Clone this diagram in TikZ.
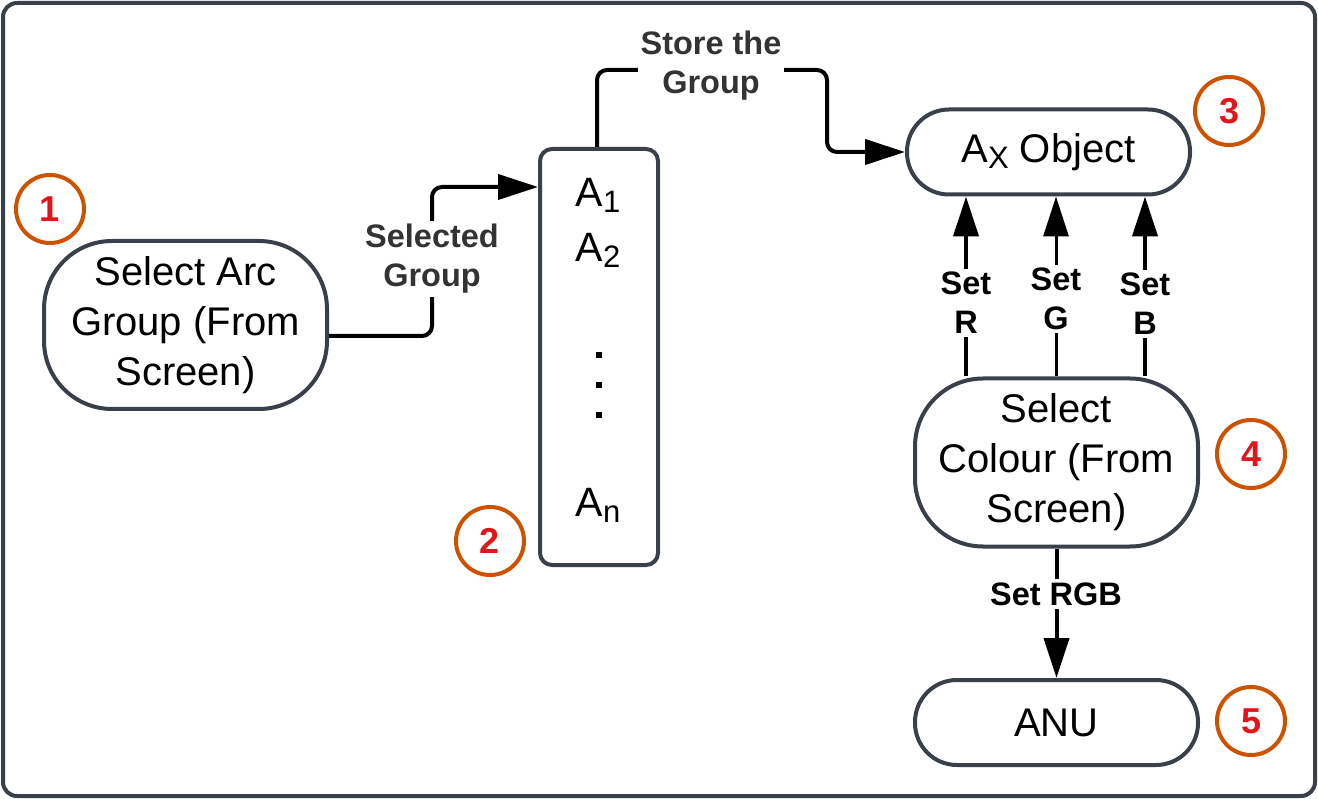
\documentclass[tikz,border=0pt]{standalone}
\usepackage{fontspec}
\setmainfont{Liberation Sans}
\usetikzlibrary{arrows.meta}
\definecolor{edgecol}{HTML}{3A4049}
\definecolor{numring}{HTML}{CC5200}
\definecolor{numtxt}{HTML}{E3151B}
\definecolor{lblgray}{HTML}{333333}
\newcommand\mysub[1]{\raisebox{-6pt}{\fontsize{31}{31}\selectfont #1}}
\begin{document}
\begin{tikzpicture}[x=1pt,y=-1pt,
 proc/.style={draw=edgecol, line width=4pt, fill=white, minimum width=283pt, minimum height=168pt, rounded corners=68pt, align=center, font=\fontsize{40}{50}\selectfont, inner sep=0pt},
 pill/.style={draw=edgecol, line width=4pt, fill=white, minimum width=283pt, minimum height=85pt, rounded corners=42pt, font=\fontsize{40}{44}\selectfont, inner sep=0pt},
 num/.style={circle, draw=numring, line width=4pt, minimum size=68pt, inner sep=0pt, text=numtxt, font=\bfseries\fontsize{36}{36}\selectfont},
 conn/.style={line width=4pt, rounded corners=10pt, -{Triangle[length=40pt,width=25pt]}},
 lbl/.style={fill=white, align=center, inner sep=3pt, font=\bfseries\fontsize{32.5}{39}\selectfont},
 atext/.style={font=\fontsize{41}{41}\selectfont, inner sep=0pt},
]
\useasboundingbox (0,0) rectangle (1318,799);
\draw[edgecol, line width=4pt, rounded corners=14pt] (3,3) rectangle (1315,796);

% nodes
\node[proc] (sel) at (185.5,325) {Select Arc\\Group (From\\Screen)};
\node[draw=edgecol, line width=4pt, rounded corners=12pt, minimum width=118pt, minimum height=416pt, fill=white] (grp) at (599,357) {};
\node[atext] (a1) at (598,195) {A\mysub{1}};
\node[atext] (a2) at (598,250) {A\mysub{2}};
\node[atext] (an) at (598,505) {A\mysub{n}};
\foreach \yy in {355,385,415} \fill (596,\yy-3) rectangle (602,\yy+3);
\node[pill] (obj) at (1048.5,152) {A\mysub{X} Object};
\node[proc] (col) at (1056.5,462.5) {Select\\Colour (From\\Screen)};
\node[pill] (anu) at (1056.5,722.5) {ANU};

% number circles
\node[num] (n1) at (50,209) {1};
\node[num] (n2) at (490,541) {2};
\node[num] (n3) at (1229,111) {3};
\node[num] (n4) at (1251,454) {4};
\node[num] (n5) at (1251,721) {5};

% connectors
\draw[conn] (sel.east |- 0,336) -- (432,336) -- (432,187) -- (grp.west |- 0,187);
\draw[conn] (grp.north -| 597,0) -- (597,70) -- (827,70) |- (obj.west);
\draw[conn] (col.north -| 966,0) -- (obj.south -| 966,0);
\draw[conn, line width=3pt] (col.north -| 1056,0) -- (obj.south -| 1056,0);
\draw[conn] (col.north -| 1145,0) -- (obj.south -| 1145,0);
\draw[conn] (col.south) -- (anu.north);

% labels
\node[lbl, text=lblgray] (l1) at (432,259) {Selected\\Group};
\node[lbl, text=lblgray] (l2) at (711,66) {Store the\\Group};
\node[lbl] (lr) at (966,303) {Set\\R};
\node[lbl] (lg) at (1056,299) {Set\\G};
\node[lbl] (lb) at (1145,304) {Set\\B};
\node[lbl] (lrgb) at (1056,594) {Set RGB};
\end{tikzpicture}
\end{document}
